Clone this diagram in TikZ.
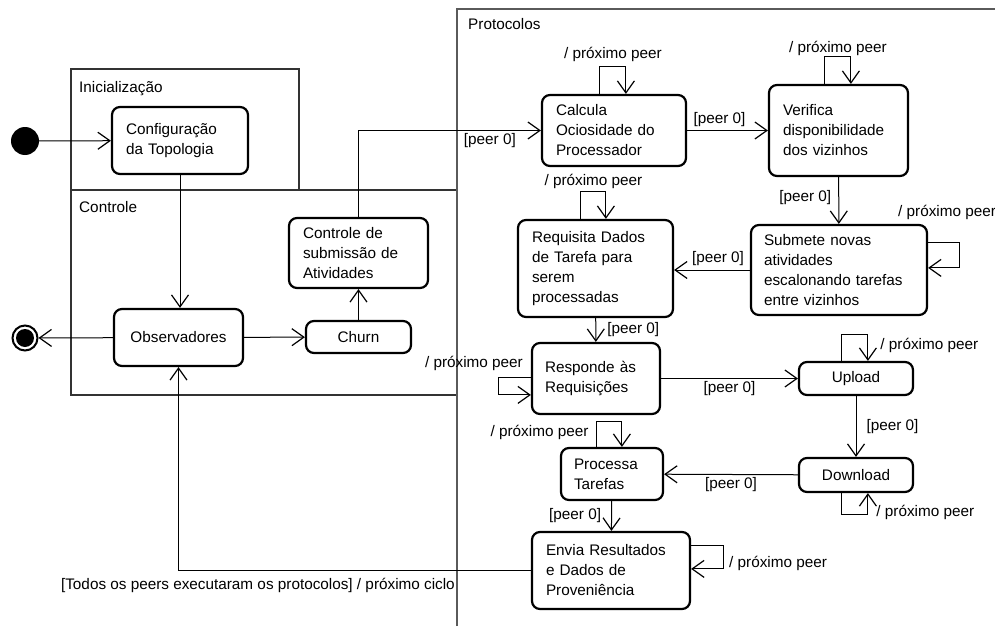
\documentclass[tikz,border=0pt]{standalone}
\usepackage{fontspec}
\setmainfont{Liberation Sans}
\usetikzlibrary{calc, arrows.meta, positioning}
\definecolor{lin}{HTML}{333333}
\definecolor{reg}{HTML}{5a5a5a}

\begin{document}
\begin{tikzpicture}[x=1pt, y=-1pt,
	font=\fontsize{15.3}{20}\selectfont,
	estado/.style={draw=black, line width=2.2pt, rounded corners=8pt, fill=white, inner xsep=14pt, inner ysep=0pt, align=left},
	simples/.style={estado, align=center, inner xsep=2pt},
	seta/.style={draw=black, line width=1pt, -{Straight Barb[length=12pt, width=17pt, line width=1.2pt]}},
	rotulo/.style={inner sep=2pt, text=black},
	regiao/.style={draw=lin, line width=1.3pt}
]
	\useasboundingbox (0, 0) rectangle (995, 626);
	
	% regioes
	\draw[regiao] (71, 69) rectangle (299, 190);
	\draw[regiao] (71, 190) rectangle (457, 395);
	\draw[regiao, draw=reg, line width=2pt] (457, 626) -- (457, 9) -- (995, 9);
	\node[rotulo, anchor=west] (tinic) at (77, 89) {Inicialização};
	\node[rotulo, anchor=west] (tctrl) at (77, 207) {Controle};
	\node[rotulo, anchor=west] (tprot) at (466, 24) {Protocolos};
	
	% pseudo-estados
	\node[circle, fill=black, minimum size=28pt, inner sep=0pt] (ini) at (25, 141) {};
	\node[circle, draw=black, line width=2pt, fill=white, minimum size=25pt, inner sep=0pt] (fim) at (25, 338) {};
	\node[circle, fill=black, minimum size=18pt, inner sep=0pt] (fimin) at (fim) {};
	
	% estados (inicializacao / controle)
	\node[estado, minimum width=136, minimum height=67, text width=108pt] (config) at (180, 140.5) {Configuração\\da Topologia};
	\node[simples, minimum width=129, minimum height=57] (obs) at (178.5, 337.5) {Observadores};
	\node[simples, minimum width=105, minimum height=32] (churn) at (358.5, 337) {Churn};
	\node[estado, minimum width=139, minimum height=70, text width=111pt] (ctrl) at (358.5, 253) {Controle de\\submissão de\\Atividades};
	
	% estados (protocolos)
	\node[estado, minimum width=144, minimum height=71, text width=116pt] (calc) at (614, 130.5) {Calcula\\Ociosidade do\\Processador};
	\node[estado, minimum width=139, minimum height=91, text width=111pt] (verif) at (838.5, 130.5) {Verifica\\disponibilidade\\dos vizinhos};
	\node[estado, minimum width=155, minimum height=97, text width=127pt] (req) at (595.5, 268.5) {Requisita Dados\\de Tarefa para\\serem\\processadas};
	\node[estado, minimum width=176, minimum height=90, inner xsep=13pt, text width=150pt] (subm) at (839, 270) {Submete novas\\atividades\\escalonando tarefas\\entre vizinhos};
	\node[estado, minimum width=128, minimum height=71, inner xsep=13pt, text width=102pt] (resp) at (596, 378.5) {Responde às\\Requisições};
	\node[simples, minimum width=114, minimum height=33] (upload) at (856, 378.5) {Upload};
	\node[simples, minimum width=114, minimum height=34] (download) at (856, 475) {Download};
	\node[estado, minimum width=102, minimum height=52, inner xsep=13pt, text width=76pt] (proc) at (612, 474) {Processa\\Tarefas};
	\node[estado, minimum width=158, minimum height=77, text width=130pt] (envia) at (611, 570.5) {Envia Resultados\\e Dados de\\Proveniência};
	
	% transicoes
	\draw[seta] (ini) -- (config);
	\draw[seta] (config.south) -- (config.south |- obs.north);
	\draw[seta] (obs) -- (fim);
	\draw[seta] (obs) -- (churn);
	\draw[seta] (churn) -- (ctrl);
	\draw[seta] (ctrl.north) |- node[rotulo, below, pos=0.86] (l1) {[peer 0]} (calc.west);
	\draw[seta] (calc) -- node[rotulo, anchor=south west, pos=0, xshift=4pt, yshift=1pt] (l2) {[peer 0]} (verif);
	\draw[seta] (verif) -- node[rotulo, left, xshift=-5pt, yshift=3pt] (l3) {[peer 0]} (subm);
	\draw[seta] (subm.west) -- node[rotulo, above, xshift=6pt, yshift=2pt] (l4) {[peer 0]} (subm.west -| req.east);
	\draw[seta] (req) -- node[rotulo, right, xshift=9pt] (l5) {[peer 0]} (resp);
	\draw[seta] (resp) -- node[rotulo, below] (l6) {[peer 0]} (upload);
	\draw[seta] (upload) -- node[rotulo, right, xshift=8pt] (l7) {[peer 0]} (download);
	\draw[seta] (download) -- node[rotulo, below] (l8) {[peer 0]} (proc);
	\draw[seta] (proc) -- node[rotulo, left, xshift=-8pt] (l9) {[peer 0]} (envia);
	\draw[seta] (envia.west) -| (obs.south);
	\node[rotulo, anchor=east] (ltodos) at (457, 585) {[Todos os peers executaram os protocolos] / próximo ciclo};
	
	% auto-transicoes (/ proximo peer)
	\draw[seta] ($(calc.north west)+(59,0)$) -- ++(0,-27) -| node[rotulo, above, pos=0.25, yshift=3pt] (lp1) {/ próximo peer} ($(calc.north west)+(85,0)$);
	\draw[seta] ($(verif.north west)+(57,0)$) -- ++(0,-27) -| node[rotulo, above, pos=0.25, yshift=-1pt] (lp2) {/ próximo peer} ($(verif.north west)+(83,0)$);
	\draw[seta] ($(req.north west)+(64,0)$) -- ++(0,-27) -| node[rotulo, above, pos=0.25, yshift=1pt] (lp3) {/ próximo peer} ($(req.north west)+(89,0)$);
	\draw[seta] ($(subm.north east)+(0,19)$) -- ++(31,0) |- ($(subm.north east)+(0,44)$);
	\node[rotulo, anchor=west] (lp4) at (896, 212) {/ próximo peer};
	\draw[seta] ($(resp.north west)+(0,36)$) -- ++(-32,0) |- ($(resp.north west)+(0,53)$);
	\node[rotulo, anchor=east] (lp5) at (525, 363) {/ próximo peer};
	\draw[seta] ($(upload.north west)+(44,0)$) -- ++(0,-26) -| node[rotulo, anchor=west, pos=0.71, xshift=10pt] (lp6) {/ próximo peer} ($(upload.north west)+(70,0)$);
	\draw[seta] ($(download.south west)+(44,0)$) -- ++(0,21) -| node[rotulo, anchor=west, pos=0.55, xshift=6pt] (lp7) {/ próximo peer} ($(download.south west)+(70,0)$);
	\draw[seta] ($(proc.north west)+(37,0)$) -- node[rotulo, left, pos=0.56, xshift=-6pt] (lp8) {/ próximo peer} ++(0,-25) -| ($(proc.north west)+(62,0)$);
	\draw[seta] ($(envia.north east)+(0,15)$) -- ++(32,0) |- ($(envia.north east)+(0,38)$);
	\node[rotulo, anchor=west] (lp9) at (727, 563) {/ próximo peer};
\end{tikzpicture}
\end{document}
